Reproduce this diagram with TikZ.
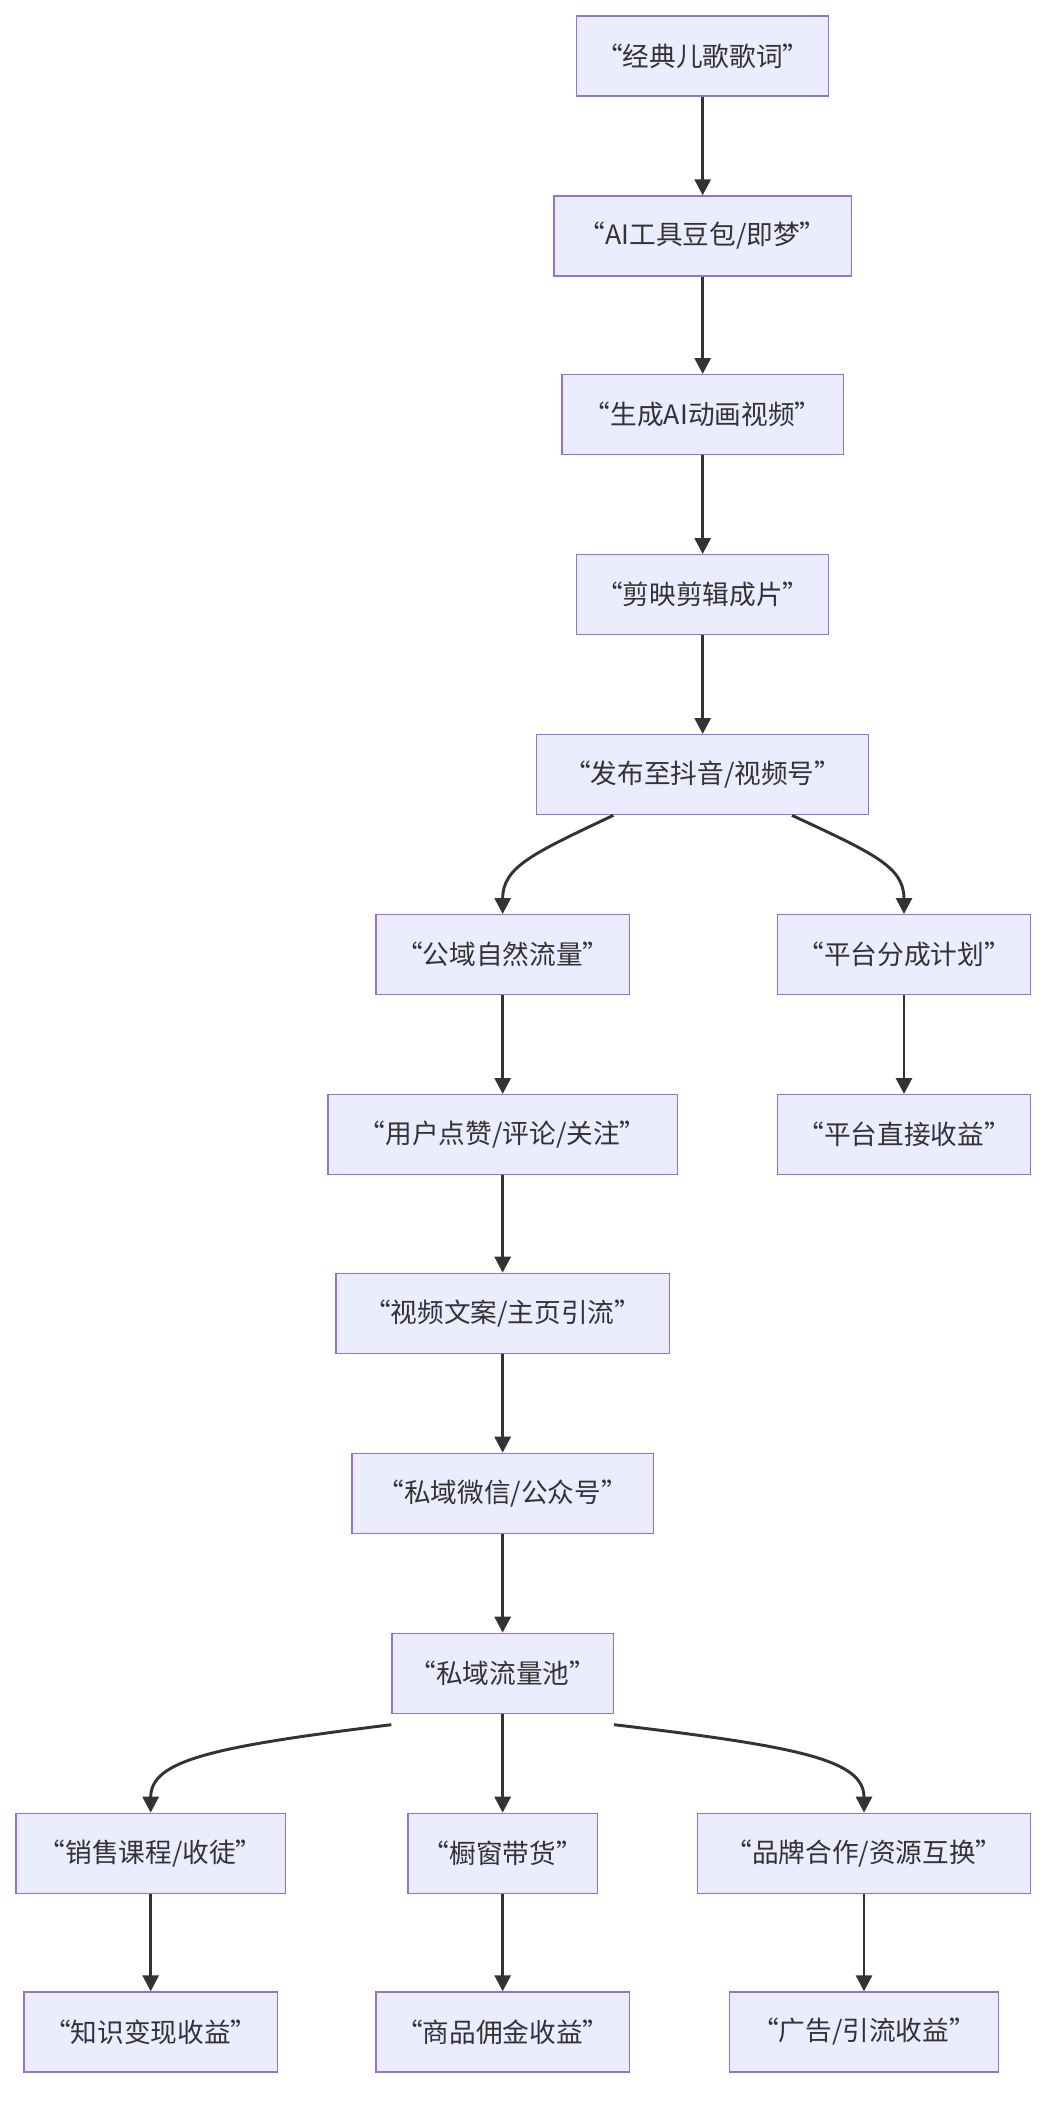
\documentclass[tikz,border=0pt]{standalone}
\usepackage{fontspec}
\setmainfont{Noto Sans CJK SC}
\usetikzlibrary{arrows.meta}
\definecolor{nf}{HTML}{ECECFF}
\definecolor{ns}{HTML}{9370DB}
\definecolor{ed}{HTML}{333333}
\begin{document}
\begin{tikzpicture}[x=1pt,y=-1pt,
 box/.style={draw=ns,fill=nf,line width=1pt,minimum height=60pt,inner sep=0pt,font=\fontsize{20}{24}\selectfont,text=ed},
 e/.style={draw=ed,line width=2.2pt,-{Triangle[length=12pt,width=12pt]}}]
\useasboundingbox (0,0) rectangle (792,1581);
\node[box,minimum width=189pt] (n1) at (527,42) {“经典儿歌歌词”};
\node[box,minimum width=223pt] (n2) at (527,177) {“AI工具豆包/即梦”};
\node[box,minimum width=211pt] (n3) at (527,311) {“生成AI动画视频”};
\node[box,minimum width=189pt] (n4) at (527,446) {“剪映剪辑成片”};
\node[box,minimum width=249pt] (n5) at (527,581) {“发布至抖音/视频号”};
\node[box,minimum width=190pt] (n6) at (377,716) {“公域自然流量”};
\node[box,minimum width=190pt] (n7) at (678,716) {“平台分成计划”};
\node[box,minimum width=262pt] (n8) at (377,851) {“用户点赞/评论/关注”};
\node[box,minimum width=190pt] (n9) at (678,851) {“平台直接收益”};
\node[box,minimum width=250pt] (n10) at (377,985) {“视频文案/主页引流”};
\node[box,minimum width=226pt] (n11) at (377,1120) {“私域微信/公众号”};
\node[box,minimum width=166pt] (n12) at (377,1255) {“私域流量池”};
\node[box,minimum width=202pt] (n13) at (113,1390) {“销售课程/收徒”};
\node[box,minimum width=142pt] (n14) at (377,1390) {“橱窗带货”};
\node[box,minimum width=250pt] (n15) at (648,1390) {“品牌合作/资源互换”};
\node[box,minimum width=190pt] (n16) at (113,1524) {“知识变现收益”};
\node[box,minimum width=190pt] (n17) at (377,1524) {“商品佣金收益”};
\node[box,minimum width=202pt] (n18) at (648,1524) {“广告/引流收益”};
\draw[e] (n1) -- (n2);
\draw[e] (n2) -- (n3);
\draw[e] (n3) -- (n4);
\draw[e] (n4) -- (n5);
\draw[e] ([xshift=-67pt]n5.south) .. controls (400,640) and (377,650) .. (n6.north);
\draw[e] ([xshift=67pt]n5.south) .. controls (655,640) and (678,650) .. (n7.north);
\draw[e] (n6) -- (n8);
\draw[e] (n7) -- (n9);
\draw[e] (n8) -- (n10);
\draw[e] (n10) -- (n11);
\draw[e] (n11) -- (n12);
\draw[e] ([yshift=-8pt]n12.south west) .. controls (160,1310) and (113,1320) .. (n13.north);
\draw[e] (n12) -- (n14);
\draw[e] ([yshift=-8pt]n12.south east) .. controls (600,1310) and (648,1320) .. (n15.north);
\draw[e] (n13) -- (n16);
\draw[e] (n14) -- (n17);
\draw[e] (n15) -- (n18);
\end{tikzpicture}
\end{document}
